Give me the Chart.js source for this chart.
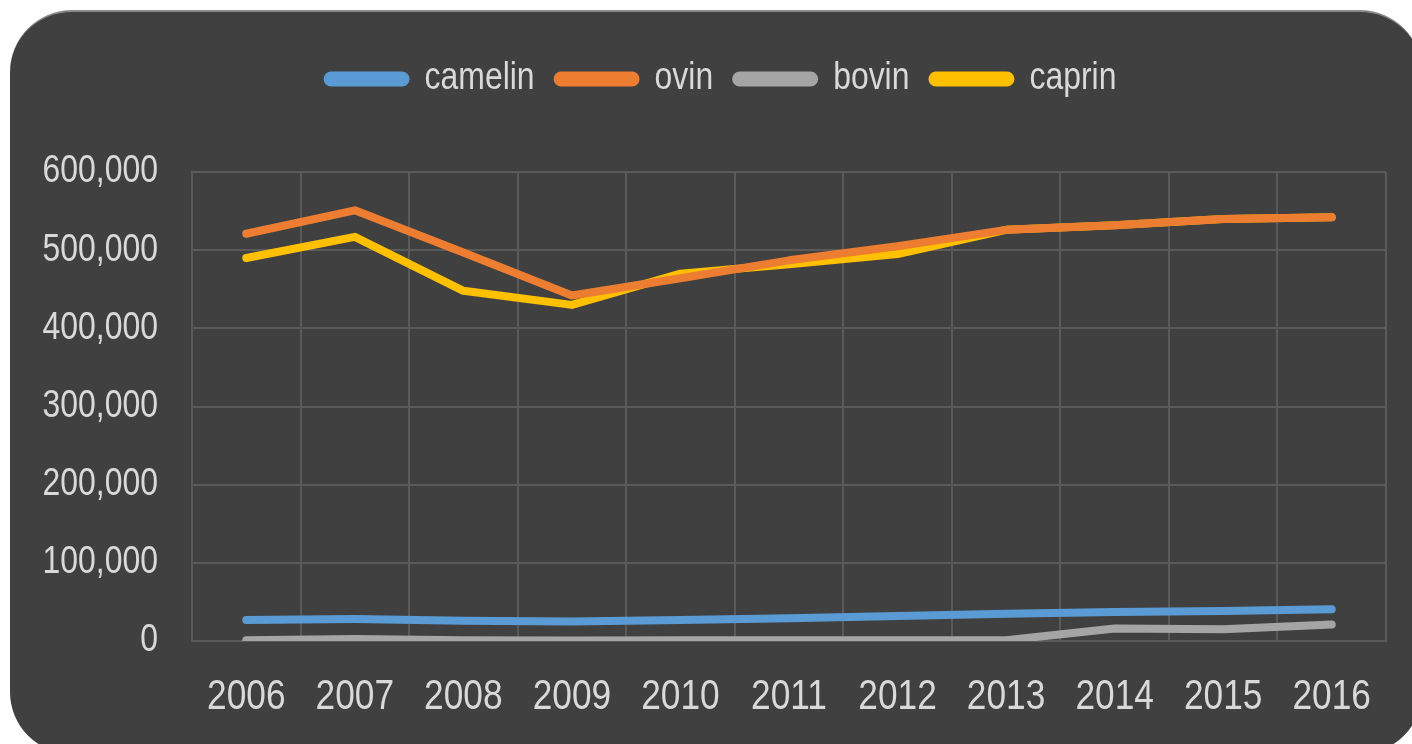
<!DOCTYPE html>
<html>
<head>
<meta charset="utf-8">
<script src="https://cdn.jsdelivr.net/npm/chart.js@4.4.1/dist/chart.umd.min.js"></script>
<style>
  html, body { margin: 0; padding: 0; background: #ffffff; width: 1412px; height: 744px; overflow: hidden; }
  #panel { position: absolute; left: 10px; top: 10px; width: 1412px; height: 744px; background: #404040; border-radius: 62px; border-top: 2px solid #8a8a8a; box-sizing: border-box; }
  #wrap { position: absolute; left: 0; top: 0; width: 1412px; height: 744px; }
</style>
</head>
<body>
<div id="panel"></div>
<div id="wrap"><canvas id="c" width="1412" height="744"></canvas></div>
<script>
const years = ['2006','2007','2008','2009','2010','2011','2012','2013','2014','2015','2016'];
const camelin = [27000, 28000, 26000, 25000, 27000, 29000, 32000, 35000, 37000, 38500, 40500];
const ovin    = [521000, 551000, 497000, 442000, 464000, 487000, 505000, 526000, 532000, 540000, 542000];
const bovin   = [1000, 2500, 1000, 500, 1000, 1000, 1000, 1000, 16000, 15000, 21000];
const caprin  = [490000, 517000, 448000, 430000, 470000, 482000, 495000, 526000, 532000, 540000, 542000];
const seriesNames = ['camelin', 'ovin', 'bovin', 'caprin'];
const seriesColors = ['#5b9bd5', '#ed7d31', '#a5a5a5', '#ffc000'];
const yTicks = [0, 100000, 200000, 300000, 400000, 500000, 600000];

const FONT = "'Liberation Sans', Arial, sans-serif";
const TEXT = '#d9d9d9';
const GRID = '#5a5a5a';

// Narrow (horizontally condensed) text rendering, as in the reference
const canvas = document.getElementById('c');
const ctx = canvas.getContext('2d');
const SX = 0.84;
const P = CanvasRenderingContext2D.prototype;
ctx.fillText = function (t, x, y) {
  this.save();
  this.translate(x, y);
  this.scale(SX, 1);
  P.fillText.call(this, t, 0, 0);
  this.restore();
};
ctx.measureText = function (t) {
  const m = P.measureText.call(this, t);
  return {
    width: m.width * SX,
    actualBoundingBoxAscent: m.actualBoundingBoxAscent,
    actualBoundingBoxDescent: m.actualBoundingBoxDescent,
    actualBoundingBoxLeft: m.actualBoundingBoxLeft * SX,
    actualBoundingBoxRight: m.actualBoundingBoxRight * SX,
    fontBoundingBoxAscent: m.fontBoundingBoxAscent,
    fontBoundingBoxDescent: m.fontBoundingBoxDescent
  };
};

const values = [camelin, ovin, bovin, caprin];
const datasets = seriesNames.map((n, i) => ({
  label: n,
  data: values[i],
  borderColor: seriesColors[i],
  backgroundColor: seriesColors[i],
  borderWidth: 8,
  pointRadius: 0,
  pointHoverRadius: 0,
  tension: 0,
  borderCapStyle: 'round',
  borderJoinStyle: 'round'
}));

// shift the legend a little to the right, like the reference
const legendShift = {
  id: 'legendShift',
  beforeDraw(chart) {
    const lg = chart.legend;
    if (lg && !lg.$wrapped) {
      const orig = lg.draw;
      lg.draw = function () {
        const c = this.ctx;
        c.save();
        c.translate(14, 0);
        orig.apply(this, arguments);
        c.restore();
      };
      lg.$wrapped = true;
    }
  }
};

new Chart(ctx, {
  type: 'line',
  data: { labels: years, datasets: datasets },
  plugins: [legendShift],
  options: {
    responsive: false,
    animation: false,
    devicePixelRatio: 1,
    locale: 'en-US',
    layout: { padding: { left: 30, right: 26, top: 37, bottom: 0 } },
    plugins: {
      tooltip: { enabled: false },
      title: { display: false },
      subtitle: {
        display: true,
        text: '',
        position: 'top',
        weight: 500,
        font: { size: 10 },
        padding: { top: 0, bottom: 52 }
      },
      legend: {
        position: 'top',
        labels: {
          color: TEXT,
          font: { family: FONT, size: 38 },
          boxWidth: 78,
          boxHeight: 7,
          padding: 23,
          useBorderRadius: true,
          borderRadius: 3.5
        }
      }
    },
    scales: {
      x: {
        type: 'category',
        offset: true,
        grid: { color: GRID, lineWidth: 2, drawTicks: false, offset: true },
        border: { color: GRID, width: 2 },
        ticks: { color: TEXT, font: { family: FONT, size: 42 }, padding: 31, maxRotation: 0, autoSkip: false },
        afterFit: (s) => { s.height = 103; }
      },
      y: {
        min: 0,
        max: 600000,
        afterBuildTicks: (s) => { s.ticks = yTicks.map(v => ({ value: v })); },
        grid: { color: GRID, lineWidth: 2, drawTicks: false },
        border: { color: GRID, width: 2 },
        ticks: { color: TEXT, font: { family: FONT, size: 38 }, padding: 34 },
        afterFit: (s) => { s.width = 162; }
      }
    }
  }
});
</script>
</body>
</html>
